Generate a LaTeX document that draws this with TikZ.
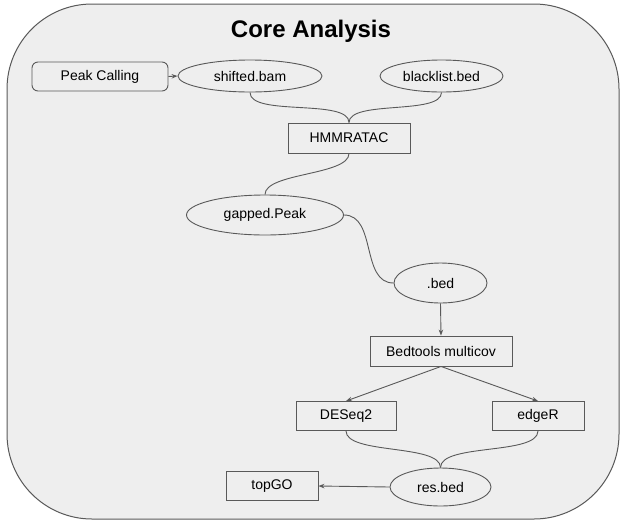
\documentclass[tikz,border=0pt]{standalone}
\usepackage{fontspec}
\setmainfont{Liberation Sans}
\usetikzlibrary{shapes.geometric,arrows.meta}
\definecolor{bgc}{HTML}{EEEEEE}
\definecolor{linec}{HTML}{595959}
\begin{document}
\begin{tikzpicture}[x=1pt,y=-1pt,
  every node/.style={font=\fontsize{14}{16}\selectfont, text=black},
  boxnode/.style={draw=linec, line width=0.9pt, fill=bgc, rectangle, inner sep=0pt},
  ellnode/.style={draw=linec, line width=0.9pt, fill=bgc, ellipse, inner sep=0pt},
  conn/.style={draw=linec, line width=0.9pt},
  scurve/.style={conn, looseness=0.6},
  arr/.style={conn, -{Stealth[length=6pt,width=4.5pt]}}
]
\useasboundingbox (0,0) rectangle (621,523);
\draw[draw=linec, line width=1pt, fill=bgc, rounded corners=85pt] (7,4) rectangle (619,519);
\node[font=\fontsize{24}{28}\selectfont\bfseries] (title) at (311,31) {Core Analysis};

\node[boxnode, rounded corners=6pt, minimum width=136pt, minimum height=29pt] (peak) at (100,76.5) {Peak Calling};
\node[ellnode, minimum width=144pt, minimum height=32pt] (shifted) at (250,76) {shifted.bam};
\node[ellnode, minimum width=123pt, minimum height=32pt] (black) at (441.5,76) {blacklist.bed};
\node[boxnode, minimum width=122pt, minimum height=30pt] (hmm) at (349,138) {HMMRATAC};
\node[ellnode, minimum width=157pt, minimum height=40pt] (gapped) at (265,215) {gapped.Peak};
\node[ellnode, minimum width=93pt, minimum height=40pt] (bed) at (440.5,283) {.bed};
\node[boxnode, minimum width=142pt, minimum height=30pt] (bedtools) at (441,351) {Bedtools multicov};
\node[boxnode, minimum width=100pt, minimum height=29pt] (deseq) at (346,416) {DESeq2};
\node[boxnode, minimum width=92pt, minimum height=29pt] (edger) at (538,416) {edgeR};
\node[ellnode, minimum width=101pt, minimum height=38pt] (res) at (440.5,487) {res.bed};
\node[boxnode, minimum width=92pt, minimum height=29pt] (topgo) at (272,486) {topGO};

\draw[arr] (peak.east) -- (shifted.west);
\draw[scurve] (shifted.south) to[out=-90,in=90] (hmm.north);
\draw[scurve] (black.south) to[out=-90,in=90] (hmm.north);
\draw[scurve] (hmm.south) to[out=-90,in=90] (gapped.north);
\draw[conn] (gapped.east) to[out=0,in=180] (bed.west);
\draw[arr] (bed.south) -- (bedtools.north);
\draw[arr] (bedtools.south) -- (deseq.north);
\draw[arr] (bedtools.south) -- (edger.north);
\draw[scurve] (deseq.south) to[out=-90,in=90] (res.north);
\draw[scurve] (edger.south) to[out=-90,in=90] (res.north);
\draw[arr] (res.west) -- (topgo.east);
\end{tikzpicture}
\end{document}
